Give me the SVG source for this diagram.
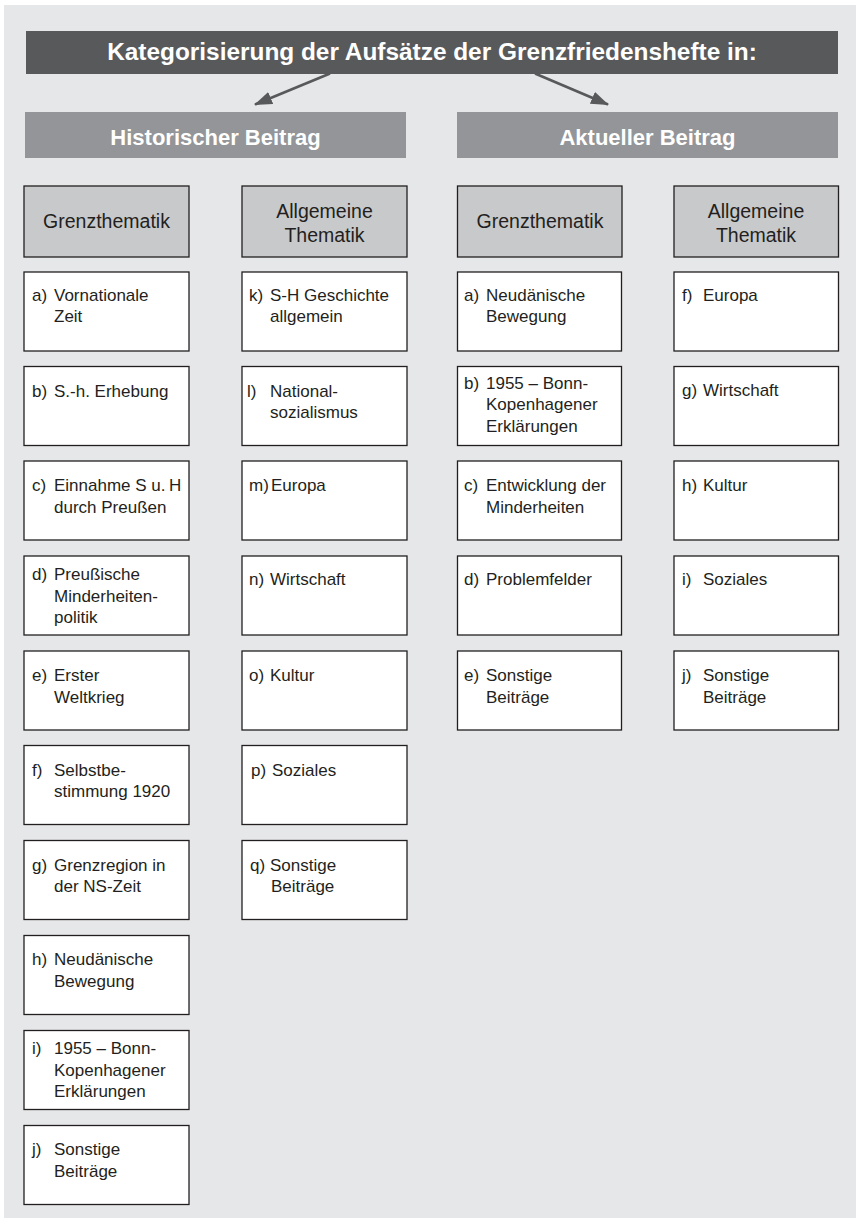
<svg xmlns="http://www.w3.org/2000/svg" width="858" height="1228" viewBox="0 0 858 1228">
<defs>
<style>
.bg{fill:#e6e7e8}
.title{fill:#58595b}
.tt{font-family:"Liberation Sans",Arial,sans-serif;font-weight:bold;fill:#fff;text-anchor:middle}
.sec{fill:#939598}
.ch{fill:#c8c9cb;stroke:#231f20;stroke-width:1.3}
.cht{font-family:"Liberation Sans",Arial,sans-serif;font-size:19.5px;fill:#231f20;text-anchor:middle}
.it{fill:#fff;stroke:#231f20;stroke-width:1.3}
.itt{font-family:"Liberation Sans",Arial,sans-serif;font-size:17px;fill:#231f20}
.arr{stroke:#58595b;stroke-width:2.6;fill:none}
</style>
<marker id="ah" markerUnits="userSpaceOnUse" viewBox="0 0 18 13" refX="17" refY="6.5" markerWidth="18" markerHeight="13" orient="auto">
<path d="M0,0 L18,6.5 L0,13 Z" fill="#58595b"/>
</marker>
</defs>
<rect width="858" height="1228" fill="#fff"/>
<rect class="bg" x="4" y="5" width="852" height="1213"/>

<g id="title">
<rect class="title" x="26" y="31" width="812" height="43"/>
<text class="tt" x="432" y="60" font-size="24.4">Kategorisierung der Aufsätze der Grenzfriedenshefte in:</text>
</g>

<g id="connectors">
<path class="arr" d="M330,73.5 L255,104.5" marker-end="url(#ah)"/>
<path class="arr" d="M535,73.5 L608,104.5" marker-end="url(#ah)"/>
</g>

<g id="hist">
<rect class="sec" x="25" y="112" width="381" height="46"/>
<text class="tt" x="215.5" y="145" font-size="22">Historischer Beitrag</text>
</g>
<g id="akt">
<rect class="sec" x="457" y="112" width="381" height="46"/>
<text class="tt" x="647.5" y="145" font-size="22">Aktueller Beitrag</text>
</g>

<g id="h-grenz">
<rect class="ch" x="24" y="186" width="165" height="71"/>
<text class="cht" x="106.5" y="228">Grenzthematik</text>
</g>
<g id="h-allg">
<rect class="ch" x="242" y="186" width="165" height="71"/>
<text class="cht" x="324.5"><tspan x="324.5" y="218">Allgemeine</tspan><tspan x="324.5" y="242">Thematik</tspan></text>
</g>
<g id="a-grenz">
<rect class="ch" x="457.5" y="186" width="164.5" height="71"/>
<text class="cht" x="540"><tspan x="540" y="228">Grenzthematik</tspan></text>
</g>
<g id="a-allg">
<rect class="ch" x="674" y="186" width="164.5" height="71"/>
<text class="cht" x="756"><tspan x="756" y="218">Allgemeine</tspan><tspan x="756" y="242">Thematik</tspan></text>
</g>

<!-- Column 1 -->
<g id="h-a"><rect class="it" x="24" y="272" width="165" height="79"/>
<text class="itt"><tspan x="32" y="300.5">a)</tspan><tspan x="54" y="300.5">Vornationale</tspan><tspan x="54" y="322.2">Zeit</tspan></text></g>
<g id="h-b"><rect class="it" x="24" y="366.5" width="165" height="79"/>
<text class="itt"><tspan x="32" y="396.5">b)</tspan><tspan x="54" y="396.5">S.-h. Erhebung</tspan></text></g>
<g id="h-c"><rect class="it" x="24" y="461" width="165" height="79"/>
<text class="itt"><tspan x="32" y="491">c)</tspan><tspan x="54" y="491">Einnahme S u.&#8201;H</tspan><tspan x="54" y="512.7">durch Preußen</tspan></text></g>
<g id="h-d"><rect class="it" x="24" y="556" width="165" height="79"/>
<text class="itt"><tspan x="32" y="580">d)</tspan><tspan x="54" y="580">Preußische</tspan><tspan x="54" y="601.7">Minderheiten-</tspan><tspan x="54" y="623.4">politik</tspan></text></g>
<g id="h-e"><rect class="it" x="24" y="651" width="165" height="79"/>
<text class="itt"><tspan x="32" y="681">e)</tspan><tspan x="54" y="681">Erster</tspan><tspan x="54" y="702.7">Weltkrieg</tspan></text></g>
<g id="h-f"><rect class="it" x="24" y="745.5" width="165" height="79"/>
<text class="itt"><tspan x="32" y="775.5">f)</tspan><tspan x="54" y="775.5">Selbstbe-</tspan><tspan x="54" y="797.2">stimmung 1920</tspan></text></g>
<g id="h-g"><rect class="it" x="24" y="840.5" width="165" height="79"/>
<text class="itt"><tspan x="32" y="870.5">g)</tspan><tspan x="54" y="870.5">Grenzregion in</tspan><tspan x="54" y="892.2">der NS-Zeit</tspan></text></g>
<g id="h-h"><rect class="it" x="24" y="935.5" width="165" height="79"/>
<text class="itt"><tspan x="32" y="965">h)</tspan><tspan x="54" y="965">Neudänische</tspan><tspan x="54" y="986.7">Bewegung</tspan></text></g>
<g id="h-i"><rect class="it" x="24" y="1030.5" width="165" height="79"/>
<text class="itt"><tspan x="32" y="1054">i)</tspan><tspan x="54" y="1054">1955 – Bonn-</tspan><tspan x="54" y="1075.7">Kopenhagener</tspan><tspan x="54" y="1097.4">Erklärungen</tspan></text></g>
<g id="h-j"><rect class="it" x="24" y="1125.5" width="165" height="79"/>
<text class="itt"><tspan x="32" y="1155">j)</tspan><tspan x="54" y="1155">Sonstige</tspan><tspan x="54" y="1176.7">Beiträge</tspan></text></g>

<!-- Column 2 -->
<g id="h-k"><rect class="it" x="242" y="272" width="165" height="79"/>
<text class="itt"><tspan x="249" y="300.5">k)</tspan><tspan x="270" y="300.5">S-H Geschichte</tspan><tspan x="270" y="322.2">allgemein</tspan></text></g>
<g id="h-l"><rect class="it" x="242" y="366.5" width="165" height="79"/>
<text class="itt"><tspan x="247" y="396.5">l)</tspan><tspan x="270" y="396.5">National-</tspan><tspan x="270" y="418.2">sozialismus</tspan></text></g>
<g id="h-m"><rect class="it" x="242" y="461" width="165" height="79"/>
<text class="itt"><tspan x="249" y="491">m)</tspan><tspan x="271" y="491">Europa</tspan></text></g>
<g id="h-n"><rect class="it" x="242" y="556" width="165" height="79"/>
<text class="itt"><tspan x="249" y="585">n)</tspan><tspan x="270" y="585">Wirtschaft</tspan></text></g>
<g id="h-o"><rect class="it" x="242" y="651" width="165" height="79"/>
<text class="itt"><tspan x="249" y="681">o)</tspan><tspan x="270" y="681">Kultur</tspan></text></g>
<g id="h-p"><rect class="it" x="242" y="745.5" width="165" height="79"/>
<text class="itt"><tspan x="251" y="775.5">p)</tspan><tspan x="272" y="775.5">Soziales</tspan></text></g>
<g id="h-q"><rect class="it" x="242" y="840.5" width="165" height="79"/>
<text class="itt"><tspan x="250" y="870.5">q)</tspan><tspan x="270" y="870.5">Sonstige</tspan><tspan x="271" y="892.2">Beiträge</tspan></text></g>

<!-- Column 3 -->
<g id="a-a"><rect class="it" x="457.5" y="272" width="164" height="79"/>
<text class="itt"><tspan x="464" y="300.5">a)</tspan><tspan x="486" y="300.5">Neudänische</tspan><tspan x="486" y="322.2">Bewegung</tspan></text></g>
<g id="a-b"><rect class="it" x="457.5" y="366.5" width="164" height="79"/>
<text class="itt"><tspan x="464" y="388.5">b)</tspan><tspan x="486" y="388.5">1955 – Bonn-</tspan><tspan x="486" y="410.2">Kopenhagener</tspan><tspan x="486" y="431.9">Erklärungen</tspan></text></g>
<g id="a-c"><rect class="it" x="457.5" y="461" width="164" height="79"/>
<text class="itt"><tspan x="464" y="491">c)</tspan><tspan x="486" y="491">Entwicklung der</tspan><tspan x="486" y="512.7">Minderheiten</tspan></text></g>
<g id="a-d"><rect class="it" x="457.5" y="556" width="164" height="79"/>
<text class="itt"><tspan x="464" y="585">d)</tspan><tspan x="486" y="585">Problemfelder</tspan></text></g>
<g id="a-e"><rect class="it" x="457.5" y="651" width="164" height="79"/>
<text class="itt"><tspan x="464" y="681">e)</tspan><tspan x="486" y="681">Sonstige</tspan><tspan x="486" y="702.7">Beiträge</tspan></text></g>

<!-- Column 4 -->
<g id="a-f"><rect class="it" x="674" y="272" width="164.5" height="79"/>
<text class="itt"><tspan x="682" y="300.5">f)</tspan><tspan x="703" y="300.5">Europa</tspan></text></g>
<g id="a-g"><rect class="it" x="674" y="366.5" width="164.5" height="79"/>
<text class="itt"><tspan x="682" y="395.5">g)</tspan><tspan x="703" y="395.5">Wirtschaft</tspan></text></g>
<g id="a-h"><rect class="it" x="674" y="461" width="164.5" height="79"/>
<text class="itt"><tspan x="682" y="491">h)</tspan><tspan x="703" y="491">Kultur</tspan></text></g>
<g id="a-i"><rect class="it" x="674" y="556" width="164.5" height="79"/>
<text class="itt"><tspan x="682" y="585">i)</tspan><tspan x="703" y="585">Soziales</tspan></text></g>
<g id="a-j"><rect class="it" x="674" y="651" width="164.5" height="79"/>
<text class="itt"><tspan x="682" y="681">j)</tspan><tspan x="703" y="681">Sonstige</tspan><tspan x="703" y="702.7">Beiträge</tspan></text></g>
</svg>
